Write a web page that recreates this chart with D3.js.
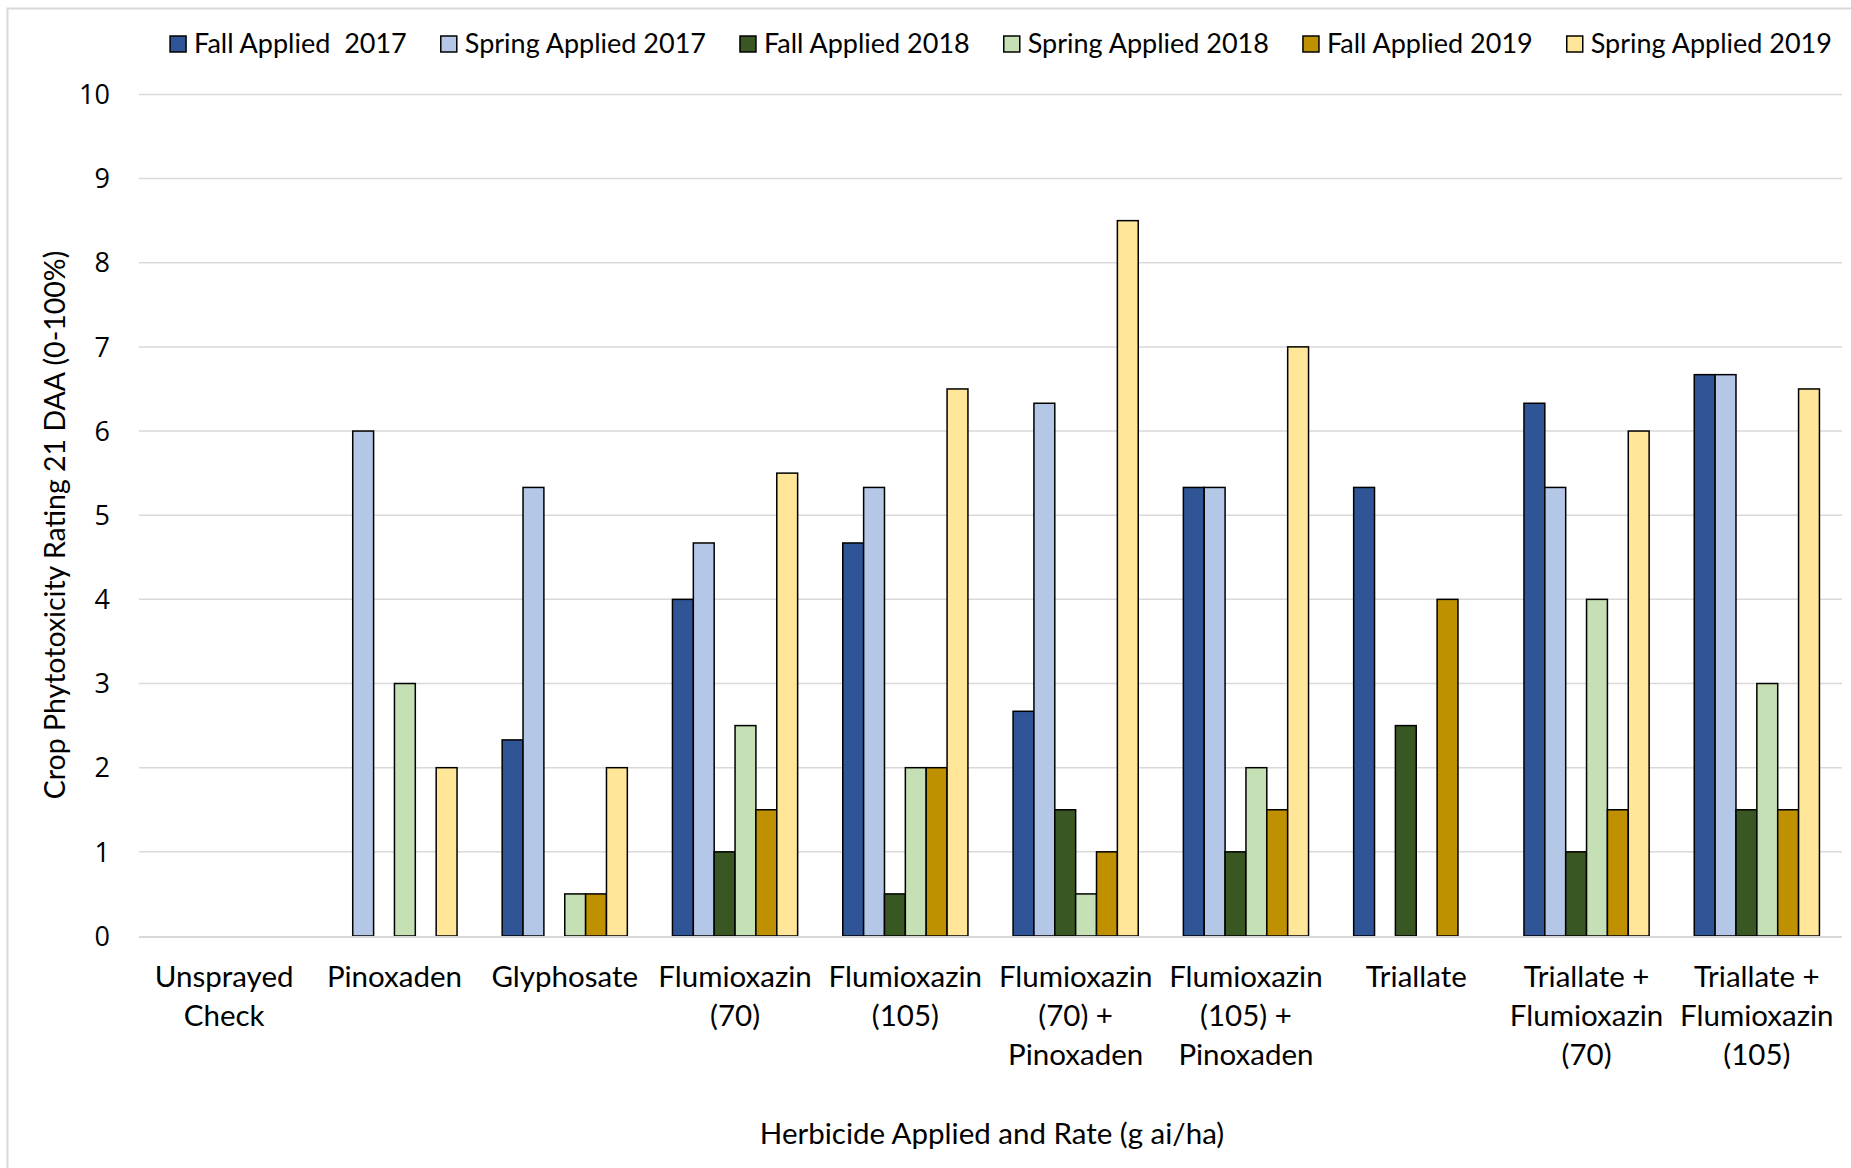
<!DOCTYPE html>
<html><head><meta charset="utf-8">
<script src="https://cdn.jsdelivr.net/npm/d3@7"></script>
<style>body{margin:0;background:#fff;overflow:hidden}</style>
</head><body>
<svg id="chart" width="1851" height="1168"></svg>
<script>
const categories = ["Unsprayed\nCheck","Pinoxaden","Glyphosate","Flumioxazin\n(70)","Flumioxazin\n(105)","Flumioxazin\n(70) +\nPinoxaden","Flumioxazin\n(105) +\nPinoxaden","Triallate","Triallate +\nFlumioxazin\n(70)","Triallate +\nFlumioxazin\n(105)"];
const seriesNames = ["Fall Applied  2017","Spring Applied 2017","Fall Applied 2018","Spring Applied 2018","Fall Applied 2019","Spring Applied 2019"];
const seriesColors = ["#2F5597","#B4C7E7","#385723","#C5E0B4","#BF9000","#FFE699"];
const fall2017   = [0, 0,    2.33, 4,    4.67, 2.67, 5.33, 5.33, 6.33, 6.67];
const spring2017 = [0, 6,    5.33, 4.67, 5.33, 6.33, 5.33, 0,    5.33, 6.67];
const fall2018   = [0, 0,    0,    1,    0.5,  1.5,  1,    2.5,  1,    1.5];
const spring2018 = [0, 3,    0.5,  2.5,  2,    0.5,  2,    0,    4,    3];
const fall2019   = [0, 0,    0.5,  1.5,  2,    1,    1.5,  4,    1.5,  1.5];
const spring2019 = [0, 2,    2,    5.5,  6.5,  8.5,  7,    0,    6,    6.5];
const yTicks = [0,1,2,3,4,5,6,7,8,9,10];
const xTitle = "Herbicide Applied and Rate (g ai/ha)";
const yTitle = "Crop Phytotoxicity Rating 21 DAA (0-100%)";

(function(){
const seriesValues = [fall2017, spring2017, fall2018, spring2018, fall2019, spring2019];
const svg = d3.select("#chart");
const FONT = "Lato, 'Open Sans', sans-serif";
const pLeft = 139, pRight = 1842, pTop = 94.4, pBottom = 936;

// outer frame
svg.append("rect").attr("x",7.5).attr("y",8.5).attr("width",2000).attr("height",2000)
  .attr("fill","none").attr("stroke","#d9d9d9").attr("stroke-width",2);

const x0 = d3.scaleBand().domain(d3.range(categories.length)).range([pLeft,pRight])
  .paddingInner(0.265).paddingOuter(0.1325);
const x1 = d3.scaleBand().domain(d3.range(seriesNames.length)).range([0,x0.bandwidth()]);
const y = d3.scaleLinear().domain([0,10]).range([pBottom,pTop]);

// gridlines
svg.append("g").selectAll("line").data(yTicks.filter(t=>t>0)).join("line")
  .attr("x1",pLeft).attr("x2",pRight).attr("y1",d=>y(d)).attr("y2",d=>y(d))
  .attr("stroke","#d9d9d9").attr("stroke-width",1.5);

// y tick labels
svg.append("g").selectAll("text").data(yTicks).join("text")
  .attr("x",110).attr("y",d=>y(d)).attr("dy","0.36em").attr("text-anchor","end")
  .attr("font-family","'Open Sans', sans-serif").attr("font-size",27).attr("fill","#000")
  .text(d=>d);

// bars
const groups = svg.append("g").selectAll("g").data(categories.map((c,i)=>i)).join("g")
  .attr("transform",i=>`translate(${x0(i)},0)`);
groups.selectAll("rect").data(i=>seriesValues.map((s,j)=>({j,v:s[i]})).filter(d=>d.v>0)).join("rect")
  .attr("x",d=>x1(d.j)).attr("width",x1.bandwidth())
  .attr("y",d=>y(d.v)).attr("height",d=>y(0)-y(d.v))
  .attr("fill",d=>seriesColors[d.j]).attr("stroke","#000").attr("stroke-width",1.5);

// x axis line
svg.append("line").attr("x1",pLeft).attr("x2",pRight).attr("y1",pBottom+1).attr("y2",pBottom+1)
  .attr("stroke","#d9d9d9").attr("stroke-width",2);

// category labels
const catG = svg.append("g");
categories.forEach((c,i)=>{
  const t = catG.append("text").attr("text-anchor","middle")
    .attr("font-family",FONT).attr("font-size",29.5).attr("fill","#000");
  c.split("\n").forEach((line,k)=>{
    t.append("tspan").attr("x",x0(i)+x0.bandwidth()/2).attr("y",977+k*39).attr("dy","0.35em").text(line);
  });
});

// axis titles
svg.append("text").attr("x",992).attr("y",1134).attr("dy","0.35em").attr("text-anchor","middle")
  .attr("font-family",FONT).attr("font-size",29.5).attr("fill","#000").text(xTitle);
svg.append("text").attr("transform","translate(55,525) rotate(-90)").attr("dy","0.35em")
  .attr("text-anchor","middle").attr("font-family",FONT).attr("font-size",28.5).attr("fill","#000").text(yTitle);

// legend
const lg = svg.append("g");
const items = seriesNames.map((n,i)=>{
  const g = lg.append("g");
  g.append("rect").attr("x",0).attr("y",-8).attr("width",16).attr("height",16)
    .attr("fill",seriesColors[i]).attr("stroke","#000").attr("stroke-width",1.5);
  const t = g.append("text").attr("x",24).attr("dy","0.35em").attr("font-family",FONT)
    .attr("font-size",27).attr("fill","#000").style("white-space","pre").text(n);
  return {g, w: 24 + t.node().getComputedTextLength()};
});
const gap = 34;
const total = d3.sum(items,d=>d.w) + gap*(items.length-1);
let cx = 1001 - total/2;
items.forEach(it=>{ it.g.attr("transform",`translate(${cx},44)`); cx += it.w + gap; });
})();
</script>
</body></html>
